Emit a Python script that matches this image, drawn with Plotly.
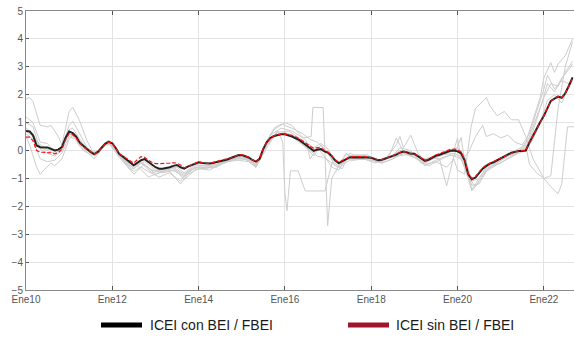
import plotly.graph_objects as go
import pandas as pd

# ---------------- data ----------------
months = pd.date_range("2010-01-01", "2022-09-01", freq="MS")

icei_con = [
    0.70, 0.68, 0.55, 0.18, 0.12, 0.12, 0.11, 0.06, 0.00, 0.03, 0.12, 0.45,
    0.68, 0.62, 0.50, 0.28, 0.15, 0.05, -0.05, -0.13, -0.05, 0.10, 0.24, 0.31,
    0.26, 0.08, -0.13, -0.22, -0.31, -0.43, -0.53, -0.45, -0.35, -0.31, -0.42, -0.50,
    -0.60, -0.65, -0.65, -0.63, -0.60, -0.55, -0.52, -0.60, -0.65, -0.58, -0.52, -0.46,
    -0.42, -0.45, -0.47, -0.47, -0.45, -0.42, -0.38, -0.35, -0.32, -0.27, -0.22, -0.17,
    -0.16, -0.20, -0.25, -0.34, -0.40, -0.30, 0.05, 0.30, 0.45, 0.52, 0.56, 0.58,
    0.58, 0.55, 0.50, 0.44, 0.38, 0.28, 0.19, 0.08, -0.01, 0.03, 0.05, -0.03,
    -0.08, -0.20, -0.35, -0.45, -0.38, -0.30, -0.25, -0.24, -0.24, -0.23, -0.23, -0.25,
    -0.26, -0.30, -0.35, -0.33, -0.29, -0.25, -0.21, -0.15, -0.08, -0.04, -0.07, -0.12,
    -0.12, -0.20, -0.30, -0.37, -0.33, -0.25, -0.19, -0.15, -0.10, -0.05, -0.01, 0.00,
    -0.03, -0.10, -0.35, -0.85, -1.03, -0.97, -0.80, -0.65, -0.55, -0.47, -0.42, -0.35,
    -0.28, -0.22, -0.15, -0.08, -0.05, -0.02, -0.02, 0.00, 0.29, 0.55, 0.78, 1.02,
    1.24, 1.50, 1.78, 1.86, 1.93, 1.89, 2.05, 2.32, 2.62,
]

icei_sin = [
    0.48, 0.48, 0.35, 0.00, -0.06, -0.07, -0.06, -0.08, -0.12, -0.08, 0.05, 0.38,
    0.60, 0.56, 0.45, 0.26, 0.13, 0.04, -0.05, -0.13, -0.06, 0.09, 0.23, 0.30,
    0.26, 0.08, -0.12, -0.20, -0.28, -0.38, -0.45, -0.33, -0.22, -0.24, -0.35, -0.42,
    -0.47, -0.47, -0.47, -0.46, -0.45, -0.44, -0.45, -0.52, -0.62, -0.58, -0.52, -0.46,
    -0.40, -0.44, -0.47, -0.46, -0.43, -0.39, -0.35, -0.33, -0.30, -0.26, -0.21, -0.16,
    -0.15, -0.19, -0.24, -0.33, -0.40, -0.28, 0.06, 0.31, 0.46, 0.53, 0.57, 0.59,
    0.59, 0.57, 0.54, 0.49, 0.43, 0.34, 0.25, 0.15, 0.07, 0.10, 0.10, 0.00,
    -0.06, -0.18, -0.33, -0.42, -0.36, -0.28, -0.23, -0.22, -0.22, -0.21, -0.22, -0.24,
    -0.25, -0.29, -0.34, -0.32, -0.28, -0.24, -0.20, -0.14, -0.07, -0.03, -0.06, -0.11,
    -0.11, -0.19, -0.29, -0.35, -0.31, -0.22, -0.16, -0.11, -0.05, 0.00, 0.04, 0.05,
    0.03, -0.05, -0.32, -0.83, -1.00, -0.93, -0.77, -0.62, -0.52, -0.45, -0.40, -0.33,
    -0.27, -0.21, -0.14, -0.08, -0.05, -0.02, -0.01, 0.01, 0.30, 0.55, 0.78, 1.01,
    1.24, 1.50, 1.77, 1.85, 1.95, 1.90, 2.05, 2.30, 2.60,
]

# individual indicators (light grey lines)
g1_dates = ["2010-01","2010-02","2010-03","2010-05","2010-07","2010-08","2010-10","2010-11","2011-01","2011-02",
            "2011-04","2011-06","2011-08","2011-10","2011-12","2012-02","2012-04","2012-07","2012-09","2012-11",
            "2013-02","2013-05","2013-08","2013-10","2014-01","2014-05","2014-09","2014-12","2015-03","2015-05",
            "2015-08","2015-10","2015-12","2016-03","2016-06","2016-08","2016-10","2016-12","2017-02","2017-04",
            "2017-06","2017-08","2017-11","2018-02","2018-05","2018-08","2018-09","2018-10","2018-12","2019-02",
            "2019-04","2019-07","2019-10","2019-12","2020-01","2020-02","2020-04","2020-05","2020-07","2020-09",
            "2020-12","2021-03","2021-06","2021-08","2021-10","2021-12","2022-01","2022-02","2022-03","2022-04",
            "2022-05","2022-07","2022-09"]
g1_vals = [1.85, 1.90, 1.75, 0.90, 0.85, 0.90, 0.50, 0.20, 1.40, 1.55,
           1.05, 0.35, -0.15, 0.10, 0.38, 0.05, -0.35, -0.85, -0.60, -0.75,
           -0.95, -0.80, -1.10, -0.75, -0.60, -0.62, -0.40, -0.25, -0.35, -0.55,
           0.30, 0.80, 0.95, 0.80, 0.60, 0.40, 0.30, 0.05, -0.30, -0.50,
           -0.15, -0.20, -0.15, -0.40, -0.30, 0.20, 0.50, 0.10, 0.55, -0.10,
           -0.40, -0.25, -0.10, 0.00, 0.45, -0.30, -1.00, -1.45, -1.10, -0.70,
           -0.45, -0.20, -0.05, 0.30, 1.10, 1.90, 2.60, 2.90, 3.15, 2.80,
           3.10, 3.40, 4.00]

g2_dates = ["2010-01","2010-02","2010-04","2010-05","2010-06","2010-08","2010-09","2010-11","2011-01","2011-02",
            "2011-04","2011-06","2011-08","2011-10","2011-12","2012-03","2012-06","2012-08","2012-11","2013-02",
            "2013-05","2013-08","2013-10","2014-01","2014-04","2014-08","2014-11","2015-02","2015-05","2015-07",
            "2015-09","2015-12","2016-03","2016-06","2016-08-10","2016-08-25","2016-11-20","2016-12-28","2017-02","2017-04",
            "2017-06","2017-08","2017-10","2018-01","2018-04","2018-07","2018-10","2019-01","2019-04","2019-07",
            "2019-10","2019-12","2020-01","2020-03","2020-04-25","2020-06","2020-09","2020-10","2020-12","2021-02",
            "2021-04","2021-06","2021-08","2021-10","2022-01","2022-03","2022-05","2022-06","2022-07-20","2022-09-15"]
g2_vals = [0.50, 0.20, -0.60, -0.85, -0.70, -0.45, -0.55, -0.30, 0.40, 0.55,
           0.15, -0.05, -0.30, 0.05, 0.28, -0.25, -0.70, -0.55, -0.95, -0.80,
           -0.75, -1.20, -0.85, -0.65, -0.70, -0.45, -0.30, -0.30, -0.60, -0.10,
           0.55, 0.80, 0.70, 0.45, 0.50, 1.54, 1.54, -2.70, -1.00, -0.55,
           -0.10, -0.30, -0.20, -0.30, -0.45, -0.30, -0.10, -0.25, -0.50, -0.40,
           -0.60, -0.30, -0.70, -0.85, 0.85, 1.50, 1.90, 1.60, 1.25, 1.40,
           1.10, 1.10, 0.50, -0.30, -1.00, -1.30, -1.55, -1.20, 0.85, 0.85]

g3_dates = ["2010-01","2010-03","2010-05","2010-07","2010-09","2010-11","2011-01","2011-02","2011-04","2011-06",
            "2011-08","2011-10","2011-12","2012-03","2012-06","2012-09","2012-12","2013-03","2013-06","2013-09",
            "2013-12","2014-03","2014-06","2014-09","2014-12","2015-03","2015-05","2015-08","2015-11","2015-12-14",
            "2016-01-01","2016-01-19","2016-02-17","2016-04-23","2016-06-21","2016-12-05","2017-02-06","2017-04","2017-07","2017-10",
            "2018-01","2018-04","2018-07","2018-09","2018-12","2019-03","2019-06","2019-09","2019-12","2020-02",
            "2020-04","2020-06","2020-08","2020-10","2021-01","2021-04","2021-07","2021-09","2021-11","2022-01",
            "2022-03","2022-05","2022-07","2022-09"]
g3_vals = [1.20, 1.00, 0.30, 0.25, -0.05, 0.10, 0.90, 1.05, 0.60, 0.10,
           -0.20, 0.10, 0.32, -0.20, -0.60, -0.45, -0.80, -0.70, -0.65, -0.90,
           -0.60, -0.60, -0.55, -0.35, -0.25, -0.35, -0.50, 0.20, 0.70, 0.30,
           -1.50, -2.16, -0.73, -0.73, -1.45, -1.45, -0.40, -0.55, -0.20, -0.30,
           -0.35, -0.40, -0.20, 0.10, 0.00, -0.45, -0.30, -0.15, -0.10, -0.20,
           -0.95, -1.30, -0.90, -0.60, -0.45, -0.20, 0.00, 0.50, 1.20, 1.90,
           2.40, 2.30, 2.80, 3.20]

g4_dates = ["2010-01","2010-03","2010-05","2010-07","2010-09","2010-11","2011-01","2011-02","2011-04","2011-06",
            "2011-08","2011-10","2011-12","2012-03","2012-06","2012-09","2012-12","2013-03","2013-06","2013-09",
            "2013-12","2014-03","2014-06","2014-09","2014-12","2015-03","2015-05","2015-08","2015-10","2016-01",
            "2016-03","2016-05","2016-07","2016-08","2016-10","2016-12","2017-02","2017-04","2017-06","2017-08",
            "2017-11","2018-02","2018-05","2018-08","2018-11","2019-02","2019-05","2019-08","2019-11","2020-02",
            "2020-04","2020-06","2020-08","2020-09","2020-11","2021-01","2021-03","2021-05","2021-07","2021-09",
            "2021-11","2022-01","2022-02","2022-04","2022-06","2022-08","2022-09"]
g4_vals = [1.00, 0.85, 0.05, -0.10, -0.20, 0.00, 0.75, 0.80, 0.40, 0.05,
           -0.20, 0.05, 0.30, -0.15, -0.55, -0.40, -0.70, -0.75, -0.60, -0.85,
           -0.55, -0.55, -0.50, -0.40, -0.30, -0.30, -0.55, 0.35, 0.75, 1.00,
           0.90, 0.60, 0.35, -0.30, 0.10, -0.20, -0.60, -0.70, -0.30, -0.35,
           -0.30, -0.45, -0.30, -0.20, -0.15, -0.30, -0.55, -0.35, -0.15, -0.30,
           -0.10, 0.50, 0.90, 0.50, 0.60, 0.45, 0.55, 0.30, 0.20, 0.60,
           1.40, 2.20, 2.70, 2.20, 2.50, 2.40, 2.60]

g5_dates = ["2010-01","2010-03","2010-05","2010-07","2010-09","2010-11","2011-01","2011-03","2011-05","2011-07",
            "2011-09","2011-11","2012-01","2012-04","2012-07","2012-09","2012-12","2013-03","2013-06","2013-09",
            "2013-12","2014-03","2014-06","2014-09","2014-12","2015-03","2015-05","2015-08","2015-10","2016-01",
            "2016-04","2016-06","2016-08","2016-10","2016-12","2017-02","2017-04","2017-07","2017-10","2018-01",
            "2018-04","2018-07","2018-10","2019-01","2019-04","2019-07","2019-10","2020-01","2020-03","2020-05",
            "2020-07","2020-09","2020-12","2021-03","2021-06","2021-08","2021-10","2021-12","2022-02","2022-04",
            "2022-06","2022-08","2022-09"]
g5_vals = [0.80, 0.60, 0.10, 0.00, -0.10, 0.05, 0.60, 0.45, 0.10, -0.10,
           -0.10, 0.20, 0.25, -0.30, -0.65, -0.45, -0.70, -0.80, -0.70, -0.95,
           -0.60, -0.65, -0.55, -0.40, -0.35, -0.40, -0.60, 0.10, 0.50, 0.65,
           0.45, 0.20, 0.00, -0.20, -0.25, -0.45, -0.60, -0.35, -0.30, -0.35,
           -0.45, -0.30, -0.10, -0.20, -0.55, -0.35, -0.20, -0.15, -0.50, -1.25,
           -1.20, -0.75, -0.50, -0.30, -0.10, 0.00, 0.40, 1.00, 1.80, 2.00,
           1.70, 2.30, 2.50]

g6_dates = ["2010-01","2010-03","2010-05","2010-07","2010-09","2010-11","2011-01","2011-03","2011-05","2011-07",
            "2011-09","2011-11","2012-01","2012-04","2012-07","2012-10","2013-01","2013-04","2013-07","2013-09",
            "2013-12","2014-03","2014-06","2014-09","2014-12","2015-03","2015-05","2015-08","2015-11","2016-02",
            "2016-05","2016-07","2016-09","2016-11","2017-01","2017-03","2017-05","2017-07","2017-09","2017-12",
            "2018-03","2018-06","2018-08","2018-10","2019-01","2019-04","2019-07","2019-10","2020-01","2020-03",
            "2020-05","2020-07","2020-09","2020-12","2021-03","2021-06","2021-08","2021-09","2021-11","2022-01",
            "2022-03","2022-05","2022-07","2022-09"]
g6_vals = [0.60, 0.40, -0.30, -0.40, -0.35, -0.10, 0.50, 0.40, 0.00, -0.15,
           -0.15, 0.20, 0.20, -0.35, -0.75, -0.50, -0.85, -0.70, -0.75, -1.05,
           -0.70, -0.60, -0.60, -0.35, -0.25, -0.35, -0.60, 0.20, 0.60, 0.60,
           0.30, 0.10, -0.20, 0.20, -0.10, -0.55, -0.65, -0.10, -0.20, -0.15,
           -0.40, -0.20, 0.45, -0.05, -0.10, -0.45, -0.25, -0.05, 0.10, -0.20,
           -1.10, -1.00, -0.60, -0.40, -0.15, 0.05, 0.20, -0.50, -0.80, -1.00,
           -0.90, 1.50, 3.00, 3.90]

g7_dates = ["2010-01","2010-03","2010-05","2010-07","2010-09","2010-11","2011-01","2011-03","2011-05","2011-07",
            "2011-09","2011-11","2012-01","2012-04","2012-07","2012-10","2013-01","2013-04","2013-07","2013-09",
            "2013-12","2014-03","2014-06","2014-09","2014-12","2015-03","2015-05","2015-08","2015-11","2016-02",
            "2016-05","2016-07","2016-09","2016-11","2017-01","2017-03","2017-05","2017-07","2017-09","2017-12",
            "2018-03","2018-06","2018-09","2018-12","2019-03","2019-06","2019-08","2019-10","2019-12","2020-02",
            "2020-03","2020-05","2020-07","2020-09","2020-12","2021-03","2021-06","2021-08","2021-10","2021-12",
            "2022-02","2022-04","2022-06","2022-08","2022-09"]
g7_vals = [0.70, 0.50, 0.20, 0.05, 0.00, 0.10, 0.70, 0.55, 0.20, 0.00,
           -0.05, 0.25, 0.25, -0.30, -0.55, -0.40, -0.70, -0.65, -0.60, -0.80,
           -0.50, -0.55, -0.50, -0.35, -0.20, -0.30, -0.50, 0.25, 0.65, 0.70,
           0.45, 0.30, 0.10, 0.25, 0.05, -0.40, -0.50, -0.20, -0.15, -0.20,
           -0.35, -0.25, 0.00, -0.05, -0.30, -0.25, -0.30, -1.27, -0.20, 0.47,
           -0.40, -1.40, -1.00, -0.65, -0.45, -0.20, 0.00, 0.10, 0.70, 1.50,
           2.40, 2.10, 2.60, 2.90, 3.10]

grey_series = [(g1_dates, g1_vals), (g2_dates, g2_vals), (g3_dates, g3_vals), (g4_dates, g4_vals),
               (g5_dates, g5_vals), (g6_dates, g6_vals), (g7_dates, g7_vals)]

tick_dates = ["2010-01-01", "2012-01-01", "2014-01-01", "2016-01-01", "2018-01-01", "2020-01-01", "2022-01-01"]
tick_labels = ["Ene10", "Ene12", "Ene14", "Ene16", "Ene18", "Ene20", "Ene22"]
y_ticks = [-5, -4, -3, -2, -1, 0, 1, 2, 3, 4, 5]

legend_names = ["ICEI con BEI / FBEI", "ICEI sin BEI / FBEI"]
legend_colors = ["#000000", "#A0152D"]

# ---------------- figure ----------------
fig = go.Figure()
for d, v in grey_series:
    fig.add_trace(go.Scatter(x=d, y=v, mode="lines", line=dict(color="#cdcdcd", width=1),
                             showlegend=False, hoverinfo="skip"))

fig.add_trace(go.Scatter(x=months, y=icei_con, mode="lines",
                         line=dict(color="#222222", width=2), showlegend=False))
fig.add_trace(go.Scatter(x=months, y=icei_sin, mode="lines",
                         line=dict(color="#ff1010", width=1.2, dash="4px,2px"), showlegend=False))

W, H = 574, 339
L, R, T, B = 26, 0, 11, 49
pw, ph = W - L - R, H - T - B

def px_to_paper_x(px):
    return (px - L) / pw

def px_to_paper_y(py):
    return (H - B - py) / ph

shapes = []
annotations = []
legend_pos = [(101, 142, 148), (348, 389, 394)]
for (x0, x1, xt), name, col in zip(legend_pos, legend_names, legend_colors):
    shapes.append(dict(type="line", xref="paper", yref="paper",
                       x0=px_to_paper_x(x0), x1=px_to_paper_x(x1),
                       y0=px_to_paper_y(325), y1=px_to_paper_y(325),
                       line=dict(color=col, width=5)))
    annotations.append(dict(text=name, xref="paper", yref="paper",
                            x=px_to_paper_x(xt), y=px_to_paper_y(325),
                            xanchor="left", yanchor="middle", showarrow=False,
                            font=dict(size=14, color="#1a1a1a", family="Liberation Sans, Arial")))

fig.update_layout(
    width=W, height=H,
    margin=dict(l=L, r=R, t=T, b=B),
    paper_bgcolor="white", plot_bgcolor="white",
    showlegend=False,
    shapes=shapes, annotations=annotations,
    font=dict(family="Liberation Sans, Arial", size=10, color="#555555"),
)
fig.update_xaxes(
    range=["2010-01-01", "2022-09-13"],
    tickvals=tick_dates, ticktext=tick_labels,
    showgrid=True, gridcolor="#e3e3e3", gridwidth=1,
    showline=True, linecolor="#8a8a8a", linewidth=1, mirror="allticks",
    ticks="inside", ticklen=4, tickcolor="#555555",
    tickfont=dict(size=10, color="#555555"), zeroline=False,
)
fig.update_yaxes(
    range=[-5, 5], tickvals=y_ticks,
    showgrid=True, gridcolor="#e3e3e3", gridwidth=1,
    showline=True, linecolor="#8a8a8a", linewidth=1,
    ticks="inside", ticklen=3, tickcolor="#555555",
    tickfont=dict(size=10, color="#555555"), zeroline=False,
)

fig.write_html("out.html")
